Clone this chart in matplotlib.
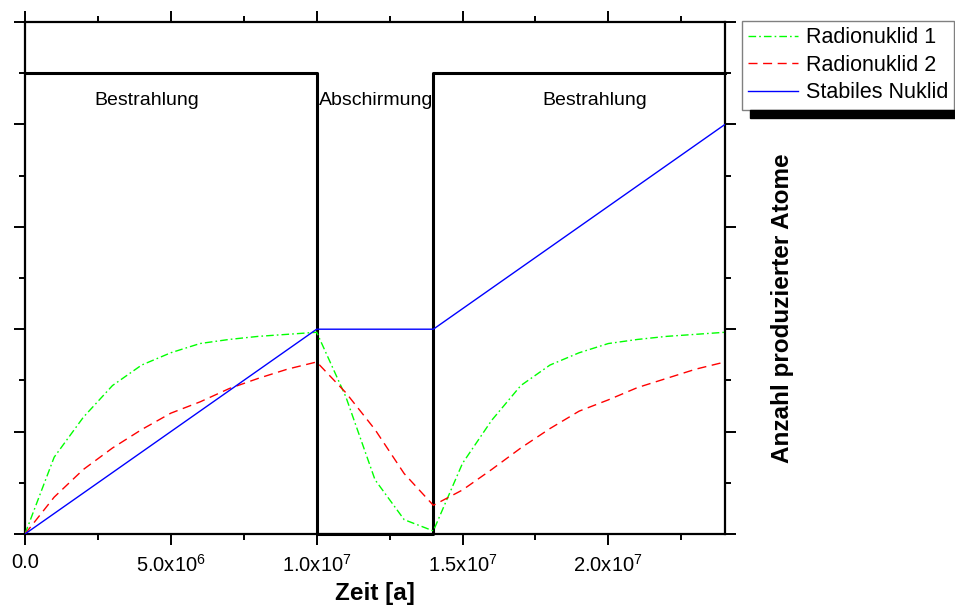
import matplotlib
matplotlib.use("Agg")
import matplotlib.pyplot as plt
from matplotlib.ticker import MultipleLocator, FuncFormatter
from matplotlib.patches import Rectangle

plt.rcParams["font.family"] = ["Liberation Sans", "DejaVu Sans"]
plt.rcParams["mathtext.fontset"] = "custom"
plt.rcParams["mathtext.rm"] = "Liberation Sans"
plt.rcParams["mathtext.it"] = "Liberation Sans:italic"
plt.rcParams["mathtext.bf"] = "Liberation Sans:bold"

# time in units of 1e6 years
t_nuk = [0, 1, 2, 3, 4, 5, 6, 7, 8, 9, 10, 11, 12, 13, 14,
         15, 16, 17, 18, 19, 20, 21, 22, 23, 24]
radio1 = [0, 0.75, 1.14, 1.45, 1.65, 1.77, 1.86, 1.90, 1.93, 1.95, 1.97,
          1.34, 0.53, 0.14, 0.03,
          0.69, 1.11, 1.45, 1.65, 1.77, 1.86, 1.90, 1.93, 1.95, 1.97]
radio2 = [0, 0.36, 0.63, 0.84, 1.02, 1.18, 1.29, 1.42, 1.52, 1.61, 1.68,
          1.38, 1.02, 0.59, 0.28,
          0.43, 0.63, 0.84, 1.03, 1.20, 1.31, 1.43, 1.52, 1.61, 1.68]
t_stabil = [0, 10, 14, 24]
stabil = [0, 2, 2, 4]
t_phase = [0, 10, 10, 14, 14, 24]
phase = [4.5, 4.5, 0, 0, 4.5, 4.5]
phase_labels = ["Bestrahlung", "Abschirmung", "Bestrahlung"]
phase_label_x = [4.19, 12.04, 19.52]

W, H = 955, 607
fig = plt.figure(figsize=(W / 100, H / 100), dpi=100)
ax = fig.add_axes([25 / W, 1 - 534 / H, 700 / W, 512 / H])

sc = 1e6
ax.plot([t * sc for t in t_phase], phase, color="black", lw=2.2,
        clip_on=False, zorder=3)
l1, = ax.plot([t * sc for t in t_nuk], radio1, color="#00ff00", lw=1.0,
              dashes=(5.5, 2.2, 1.2, 2.2), label="Radionuklid 1", zorder=4)
l2, = ax.plot([t * sc for t in t_nuk], radio2, color="#ff0000", lw=1.0,
              dashes=(6.5, 4), label="Radionuklid 2", zorder=4)
l3, = ax.plot([t * sc for t in t_stabil], stabil, color="#0000ff", lw=1.0,
              label="Stabiles Nuklid", zorder=4)

for lab, x in zip(phase_labels, phase_label_x):
    ax.text(x * sc, 4.23, lab, ha="center", va="center", fontsize=14)

ax.set_xlim(0, 24e6)
ax.set_ylim(0, 5)
ax.xaxis.set_major_locator(MultipleLocator(5e6))
ax.xaxis.set_minor_locator(MultipleLocator(2.5e6))
ax.yaxis.set_major_locator(MultipleLocator(1))
ax.yaxis.set_minor_locator(MultipleLocator(0.5))


def fmt(v, pos):
    if v == 0:
        return "0.0"
    e = 0
    m = v
    while m >= 10:
        m /= 10
        e += 1
    return f"{m:.1f}x10$^{{{e}}}$"


ax.xaxis.set_major_formatter(FuncFormatter(fmt))
ax.tick_params(which="both", direction="out", top=True, right=True,
               labelleft=False, width=1.4)
ax.tick_params(which="major", length=8, labelsize=14.5, pad=6)
ax.tick_params(which="minor", length=4)
for s in ax.spines.values():
    s.set_linewidth(1.6)

ax.set_xlabel("Zeit [a]", fontsize=17.5, fontweight="bold", labelpad=5)
fig.text(782 / W, 1 - 308 / H, "Anzahl produzierter Atome", rotation=90,
         ha="center", va="center", fontsize=17.5, fontweight="bold")

leg = ax.legend(handles=[l1, l2, l3], loc="upper left",
                bbox_to_anchor=(742 / W, 1 - 21 / H),
                bbox_transform=fig.transFigure, borderaxespad=0,
                fontsize=15.5, handlelength=2.3, handletextpad=0.35,
                labelspacing=0.3, borderpad=0.3, fancybox=False,
                framealpha=1, edgecolor="#808080")
leg.get_frame().set_linewidth(1.0)

# black drop shadow under the legend box, like the original
fig.canvas.draw()
bb = leg.get_window_extent().transformed(fig.transFigure.inverted())
fig.patches.append(Rectangle((bb.x0 + 8 / W, bb.y0 - 8 / H), bb.width + 20 / W,
                             8 / H, transform=fig.transFigure,
                             color="black", zorder=0))

fig.savefig("out.png", dpi=100)
